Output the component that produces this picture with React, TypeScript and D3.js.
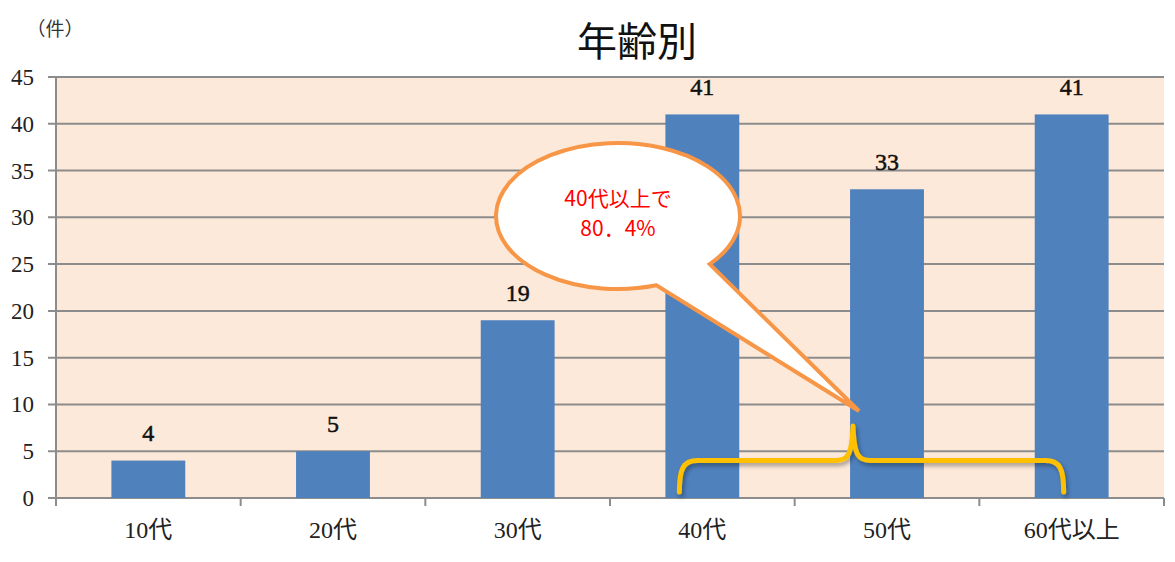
import React from 'react';
import * as d3 from 'd3';

const categories = ['10代', '20代', '30代', '40代', '50代', '60代以上'];
const counts = [4, 5, 19, 41, 33, 41];
const yTicks = [0, 5, 10, 15, 20, 25, 30, 35, 40, 45];
const title = '年齢別';
const unitLabel = '（件）';
const calloutLines = ['40代以上で', '80．4%'];

const W = 1175;
const H = 562;
const margin = { top: 77, right: 11, bottom: 64, left: 56 };

const serif = '"Liberation Serif", "DejaVu Serif", "Noto Sans CJK JP", serif';
const gothic = '"Noto Sans CJK JP", "Noto Sans", sans-serif';

export default function App() {
  const x = d3.scaleBand<string>()
    .domain(categories)
    .range([margin.left, W - margin.right])
    .padding(0);

  const y = d3.scaleLinear()
    .domain([0, 45])
    .range([H - margin.bottom, margin.top]);

  const barW = x.bandwidth() * 0.4;
  const x0 = margin.left;
  const x1 = W - margin.right;
  const yBase = y(0);

  // brace spanning 40代..60代以上, cusp over 50代
  const bL = (x('40代') ?? 0) + x.bandwidth() / 2 - 23;
  const bR = (x('60代以上') ?? 0) + x.bandwidth() / 2 - 8;
  const bM = (x('50代') ?? 0) + x.bandwidth() / 2 - 34;
  const bTop = y(4);
  const bEnd = yBase - 6;
  const bTip = y(7.7);
  const brace = `M${bL},${bEnd} C${bL},${bTop + 8} ${bL + 4},${bTop} ${bL + 18},${bTop}
    L${bM - 18},${bTop} C${bM - 6},${bTop} ${bM - 1},${bTop - 4} ${bM},${bTip}
    C${bM + 1},${bTop - 4} ${bM + 6},${bTop} ${bM + 18},${bTop}
    L${bR - 18},${bTop} C${bR - 4},${bTop} ${bR},${bTop + 8} ${bR},${bEnd}`;

  // speech bubble
  const cx = 618, cy = 216, rx = 122, ry = 73;
  const tip: [number, number] = [859, 411];
  const a1 = 1.25, a2 = 0.72; // angles where tail leaves the ellipse
  const p1: [number, number] = [cx + rx * Math.cos(a1), cy + ry * Math.sin(a1)];
  const p2: [number, number] = [cx + rx * Math.cos(a2), cy + ry * Math.sin(a2)];
  const bubble = `M${p2[0]},${p2[1]} A${rx},${ry} 0 1 0 ${p1[0]},${p1[1]} L${tip[0]},${tip[1]} Z`;

  return (
    <svg width={W} height={H} style={{ position: 'absolute', left: 0, top: 0, background: '#fff' }}>
      <defs>
        <filter id="shadow" x="-10%" y="-50%" width="120%" height="200%">
          <feDropShadow dx="2" dy="3" stdDeviation="2" floodColor="#000" floodOpacity="0.35" />
        </filter>
      </defs>

      <rect x={x0} y={margin.top} width={x1 - x0} height={yBase - margin.top} fill="#FDE9D9" />

      {yTicks.map(t => (
        <g key={t}>
          <line x1={x0 - 8} x2={x1} y1={y(t)} y2={y(t)} stroke="#8C8C8C" strokeWidth={2} />
          <text x={34} y={y(t)} dy="0.35em" textAnchor="end" fontFamily={serif} fontSize={23} fill="#222">
            {t}
          </text>
        </g>
      ))}
      <line x1={x0} x2={x0} y1={margin.top} y2={yBase + 8} stroke="#8C8C8C" strokeWidth={2} />

      {categories.map(c => (
        <line key={c} x1={x(c) ?? 0} x2={x(c) ?? 0} y1={yBase} y2={yBase + 8}
          stroke="#8C8C8C" strokeWidth={2} />
      ))}
      <line x1={x1} x2={x1} y1={yBase} y2={yBase + 8} stroke="#8C8C8C" strokeWidth={2} />

      {categories.map((c, i) => {
        const cxb = (x(c) ?? 0) + x.bandwidth() / 2;
        return (
          <g key={c}>
            <rect x={cxb - barW / 2} y={y(counts[i])} width={barW} height={yBase - y(counts[i])} fill="#4F81BD" />
            <text x={cxb} y={y(counts[i]) - 28} dy="0.35em" textAnchor="middle" fontFamily={serif}
              fontSize={24} fill="#111" stroke="#111" strokeWidth={0.5}>
              {counts[i]}
            </text>
            <text x={cxb} y={yBase + 32} dy="0.35em" textAnchor="middle" fontFamily={serif}
              fontSize={24} fill="#222">
              {c}
            </text>
          </g>
        );
      })}

      <text x={637} y={42} dy="0.35em" textAnchor="middle" fontFamily={gothic} fontSize={40} fill="#111">
        {title}
      </text>
      <text x={55} y={29} dy="0.35em" textAnchor="middle" fontFamily={gothic} fontSize={19} fill="#333">
        {unitLabel}
      </text>

      <path d={brace} fill="none" stroke="#FFC000" strokeWidth={5} strokeLinecap="round"
        strokeLinejoin="round" filter="url(#shadow)" />

      <path d={bubble} fill="#fff" stroke="#F79646" strokeWidth={4} strokeLinejoin="miter" />
      {calloutLines.map((l, i) => (
        <text key={l} x={cx} y={199 + i * 30} dy="0.35em" textAnchor="middle" fontFamily={gothic}
          fontSize={21} fill="#FF0000">
          {l}
        </text>
      ))}
    </svg>
  );
}
